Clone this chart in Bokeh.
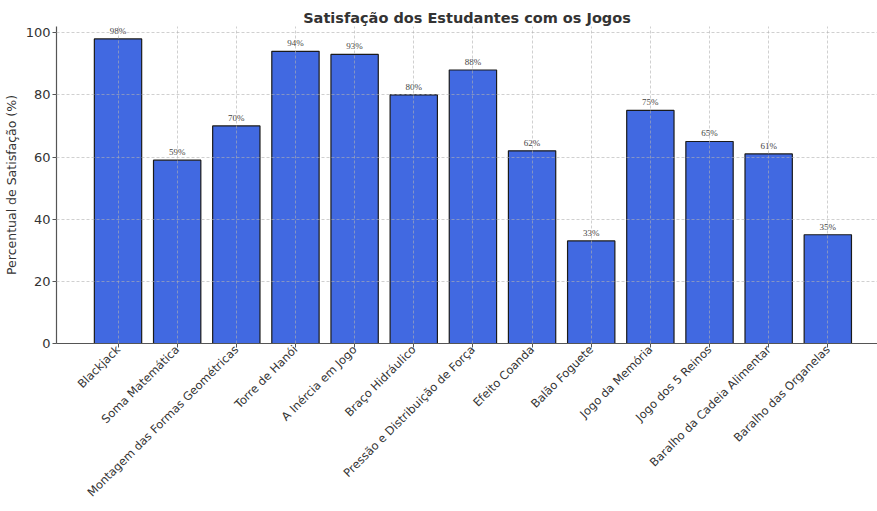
import math
from bokeh.plotting import figure
from bokeh.models import ColumnDataSource, Range1d, FixedTicker, Title
from bokeh.embed import file_html
from bokeh.resources import INLINE

jogos = ["Blackjack", "Soma Matemática", "Montagem das Formas Geométricas", "Torre de Hanói",
         "A Inércia em Jogo", "Braço Hidráulico", "Pressão e Distribuição de Força",
         "Efeito Coanda", "Balão Foguete", "Jogo da Memória", "Jogo dos 5 Reinos",
         "Baralho da Cadeia Alimentar", "Baralho das Organelas"]
satisfacao = [98, 59, 70, 94, 93, 80, 88, 62, 33, 75, 65, 61, 35]
y_ticks = [0, 20, 40, 60, 80, 100]

xs = list(range(len(jogos)))
src = ColumnDataSource(dict(x=xs, y=satisfacao, lbl=[f"{v}%" for v in satisfacao]))

p = figure(width=877, height=511, output_backend="svg", toolbar_location=None,
           x_range=Range1d(-1.04, 12.84), y_range=Range1d(0, 102),
           min_border_left=47, min_border_right=0, min_border_top=26, min_border_bottom=168)
p.title = Title(text="Satisfação dos Estudantes com os Jogos", align="center",
                text_font="DejaVu Sans", text_font_size="14.5px", text_font_style="bold",
                text_color="#333333", standoff=2)
p.outline_line_color = None

p.vbar(x="x", top="y", width=0.8, bottom=0, source=src, fill_color="#4169E1",
       line_color="#1a1a1a", line_width=1.2)
p.text(x="x", y="y", text="lbl", source=src, text_align="center", text_baseline="bottom",
       y_offset=-3, text_font_size="9px", text_color="#444444", text_font="DejaVu Sans")

p.xaxis.ticker = FixedTicker(ticks=xs)
p.xaxis.major_label_overrides = {i: n for i, n in enumerate(jogos)}
p.xaxis.major_label_orientation = math.pi / 4
p.yaxis.ticker = FixedTicker(ticks=y_ticks)
p.yaxis.axis_label = "Percentual de Satisfação (%)"

for ax in (p.xaxis[0], p.yaxis[0]):
    ax.axis_line_color = "#555555"
    ax.axis_line_width = 1.2
    ax.major_tick_line_color = "#555555"
    ax.major_tick_in = 0
    ax.major_tick_out = 4
    ax.minor_tick_line_color = None
    ax.major_label_text_font = "DejaVu Sans"
    ax.major_label_text_color = "#333333"
    ax.axis_label_text_font = "DejaVu Sans"
    ax.axis_label_text_font_style = "normal"
    ax.axis_label_text_color = "#333333"
p.xaxis.major_label_text_font_size = "11.5px"
p.xaxis.major_label_standoff = 0
p.yaxis.major_label_text_font_size = "13px"
p.yaxis.major_label_standoff = 2
p.yaxis.axis_label_text_font_size = "12.5px"
p.yaxis.axis_label_standoff = 4

for g in (p.xgrid[0], p.ygrid[0]):
    g.grid_line_color = "#b0b0b0"
    g.grid_line_dash = "3 2"
    g.grid_line_alpha = 0.6
    g.level = "overlay"
p.xgrid.ticker = FixedTicker(ticks=xs)
p.ygrid.ticker = FixedTicker(ticks=y_ticks)

open("out.html", "w").write(file_html(p, INLINE))
